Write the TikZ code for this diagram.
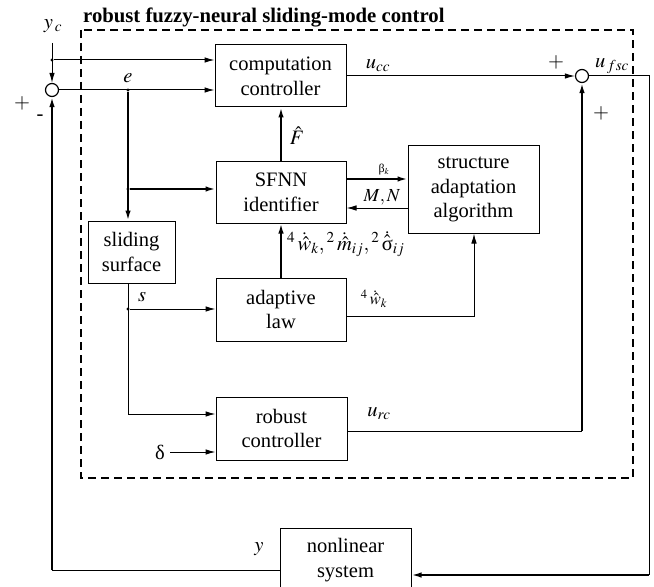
\documentclass[tikz,border=0pt]{standalone}
\usepackage{mathptmx}
\usepackage{fontspec}
\setmainfont{Liberation Serif}
\usetikzlibrary{arrows.meta}

\tikzset{
  blk/.style={draw, line width=1bp, align=center, inner sep=0pt,
              font=\fontsize{20.6}{25}\selectfont},
  sumpt/.style={draw, circle, line width=1.2bp, minimum size=13bp, inner sep=0pt},
  thin/.style={line width=1bp},
  thick/.style={line width=1.8bp},
  arr/.style={-{Latex[length=10bp,width=5.5bp]}},
  lbl/.style={inner sep=0pt, font=\fontsize{20.6}{25}\selectfont},
  dot/.style={circle, fill, inner sep=0pt, minimum size=3.2bp},
  frame/.style={dashed, dash pattern=on 8bp off 5bp, line width=1.8bp}
}

\begin{document}
\begin{tikzpicture}[x=1bp, y=-1bp]
\useasboundingbox (0,0) rectangle (654,587);
\clip (0,0) rectangle (654,587);

% controller frame and its title
\draw[frame] (81,30) rectangle (633,478);
\node[anchor=base west, inner sep=0pt, font=\fontsize{20.8}{24}\selectfont\bfseries]
  (title) at (83,23) {robust fuzzy-neural sliding-mode control};

% blocks
\node[blk, minimum width=131bp, minimum height=62bp] (comp)   at (280.5,76)  {computation\\controller};
\node[blk, minimum width=130bp, minimum height=61bp] (sfnn)   at (281,192.5) {SFNN\\identifier};
\node[blk, minimum width=131bp, minimum height=87bp] (struct) at (473.5,189.5) {structure\\adaptation\\algorithm};
\node[blk, minimum width=87bp,  minimum height=62bp] (slide)  at (131.5,252)  {sliding\\surface};
\node[blk, minimum width=130bp, minimum height=63bp] (adapt)  at (281,309.5)  {adaptive\\law};
\node[blk, minimum width=131bp, minimum height=63bp] (robust) at (281.5,428.5) {robust\\controller};
\node[blk, minimum width=131bp, minimum height=64bp] (plant)  at (345.5,560)  {nonlinear\\system};

% summing junctions
\node[sumpt] (s1) at (52,90) {};
\node[sumpt] (s2) at (582,76) {};

% branch points and corners
\coordinate (yc)  at (52,43);
\node[dot] (j1) at (52,60) {};
\node[dot] (je) at (128,90) {};
\node[dot] (j2) at (128,189) {};
\node[dot] (js) at (128,309) {};
\coordinate (sb)  at (128,283);
\coordinate (rc)  at (128,414);
\coordinate (ad)  at (474,316);
\coordinate (rr)  at (582,431);
\coordinate (ot)  at (649,76);
\coordinate (ob)  at (649,575);
\coordinate (fb)  at (52,570);
\coordinate (dl)  at (170,452);

% reference input
\draw[thin, arr] (yc) -- (s1.north);
\draw[thin, arr] (j1) -- (j1 -| comp.west);
\draw[thin, arr] (s1.east) -- (s1 -| comp.west);

% error path
\draw[thick, arr] (je) -- (je |- slide.north);
\draw[thick, arr] (j2) -- (j2 -| sfnn.west);

% identifier and structure adaptation
\draw[thick, arr] (sfnn.north) -- (sfnn.north |- comp.south);
\draw[thick, arr] (sfnn.east |- 0,179) -- (struct.west |- 0,179);
\draw[thin, arr] (struct.west |- 0,208) -- (sfnn.east |- 0,208);

% sliding variable
\draw[thin, arr] (sb) -- (rc) -- (robust.west |- rc);
\draw[thin, arr] (js) -- (js -| adapt.west);
\draw[thick, arr] (adapt.north) -- (adapt.north |- sfnn.south);
\draw[thin, arr] (adapt.east |- ad) -- (ad) -- (ad |- struct.south);

% bound input
\draw[thin, arr] (dl) -- (dl -| robust.west);

% control signals
\draw[thin, arr] (comp.east) -- (s2.west);
\draw[thin] (robust.east |- rr) -- (rr);
\draw[thick, arr] (rr) -- (s2.south);
\draw[thin] (s2.east) -- (ot) -- (ob);
\draw[thick, arr] (ob) -- (ob -| plant.east);

% feedback
\draw[thin] (plant.west |- fb) -- (fb);
\draw[thick, arr] (fb) -- (s1.south);

% labels
\node[lbl] (lyc) at (53,26) {$y_{\,c}$};
\node[lbl] (le) at (128,78) {$e$};
\node[lbl] (lp1) at (22,103) {$+$};
\node[lbl] (lm1) at (40,118) {-};
\node[lbl] (lucc) at (378,66) {$u_{cc}$};
\node[lbl] (lp2) at (556,62) {$+$};
\node[lbl] (lufsc) at (612,66) {$u_{\,fsc}$};
\node[lbl] (lp3) at (601,113) {$+$};
\node[lbl] (lF) at (297,136) {$\hat{F}$};
\node[inner sep=0pt, font=\fontsize{12}{12}\selectfont] (lb) at (384,170) {β$_k$};
\node[lbl, font=\fontsize{18.5}{20}\selectfont] (lMN) at (382,197) {$M,N$};
\node[lbl, anchor=west] (lw) at (287,244)
  {${}^4\,\dot{\hat{w}}_k,{}^2\,\dot{\hat{m}}_{ij},{}^2\,\dot{\hat{\mbox{σ}}}_{ij}$};
\node[lbl] (ls) at (142,297) {$s$};
\node[lbl, font=\fontsize{17}{20}\selectfont] (lw2) at (374,299) {${}^4\,\dot{\hat{w}}_k$};
\node[lbl] (lurc) at (379,414) {$u_{rc}$};
\node[lbl] (ld) at (160,452) {δ};
\node[lbl] (ly) at (259,549) {$y$};
\end{tikzpicture}
\end{document}
